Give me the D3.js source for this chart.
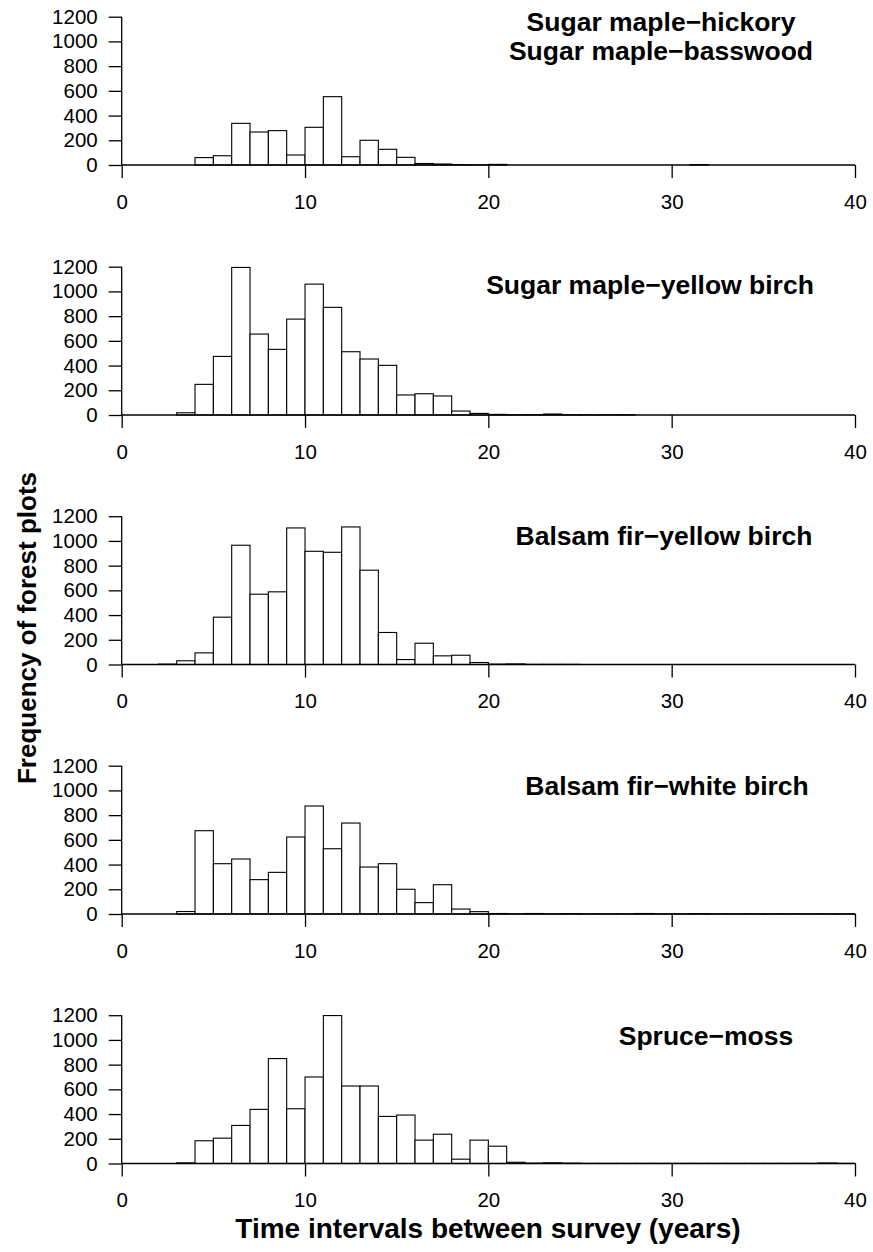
<!DOCTYPE html>
<html><head><meta charset="utf-8">
<script src="https://cdn.jsdelivr.net/npm/d3@7"></script>
<style>body{margin:0;background:#fff}svg{display:block}</style>
</head><body>
<script>
// bin left edges (years), each bin is 1 year wide
const binStarts = [0,1,2,3,4,5,6,7,8,9,10,11,12,13,14,15,16,17,18,19,20,21,22,23,24,25,26,27,28,29,30,31,32,33,34,35,36,37,38,39];
const xTicks = [0,10,20,30,40];
const yTicks = [0,200,400,600,800,1000,1200];

const panelTitles = [
  ["Sugar maple\u2212hickory","Sugar maple\u2212basswood"],
  ["Sugar maple\u2212yellow birch"],
  ["Balsam fir\u2212yellow birch"],
  ["Balsam fir\u2212white birch"],
  ["Spruce\u2212moss"]
];
const countsSMH = [0,0,0,0,60,75,337,267,278,81,305,553,67,200,127,62,12,8,3,1,5,0,0,0,0,0,0,0,0,0,0,3,0,0,0,0,0,0,0,0];
const countsSMYB = [0,0,0,18,248,474,1194,655,531,776,1059,871,512,453,402,162,172,154,32,13,5,2,3,8,2,1,1,2,0,0,0,0,0,0,0,0,0,0,0,0];
const countsBFYB = [0,0,3,30,94,383,965,569,588,1105,916,908,1113,763,259,40,172,70,75,16,3,5,1,1,1,0,0,0,0,0,0,0,0,0,0,0,0,0,0,0];
const countsBFWB = [0,0,0,20,674,407,445,278,337,623,874,528,736,380,407,200,92,237,40,19,4,1,4,1,3,1,1,1,4,1,1,3,1,1,1,1,1,1,1,1];
const countsSM = [0,0,0,5,184,205,308,438,849,443,700,1197,627,627,381,392,189,237,35,189,140,10,3,6,3,1,1,1,1,1,1,1,1,1,1,1,1,1,4,1];
const allCounts = [countsSMH, countsSMYB, countsBFYB, countsBFWB, countsSM];

const yLabel = "Frequency of forest plots";
const xLabel = "Time intervals between survey (years)";

const W = 873, H = 1252;
const svg = d3.select("body").append("svg").attr("width", W).attr("height", H)
  .style("font-family", "'Liberation Sans', Arial, Helvetica, sans-serif");

const x = d3.scaleLinear().domain([0, 40]).range([121.7, 855]);
const baseY = [165, 415, 664.5, 914, 1163.5];
const plotH = 148.3;
const titleCX = [661, 650, 664, 667, 706];
const titleCY = [[22, 51], [285], [536], [786], [1036]];

allCounts.forEach((counts, i) => {
  const y = d3.scaleLinear().domain([0, 1200]).range([baseY[i], baseY[i] - plotH]);
  const g = svg.append("g");
  g.selectAll("rect").data(binStarts).join("rect")
    .attr("x", d => x(d))
    .attr("width", d => x(d + 1) - x(d))
    .attr("y", (d, j) => y(counts[j]))
    .attr("height", (d, j) => y(0) - y(counts[j]))
    .attr("fill", "#fff").attr("stroke", "#000").attr("stroke-width", 1.1);

  const yAxis = d3.axisLeft(y).tickValues(yTicks).tickSize(13).tickPadding(11).tickFormat(d3.format("d"));
  const ya = g.append("g").attr("transform", `translate(${x(0)},0)`).call(yAxis);
  const xAxis = d3.axisBottom(x).tickValues(xTicks).tickSize(13).tickPadding(16).tickFormat(d3.format("d"));
  const xa = g.append("g").attr("transform", `translate(0,${y(0)})`).call(xAxis);
  [ya, xa].forEach(a => {
    a.select(".domain").attr("stroke", "#000").attr("stroke-width", 1.3)
      .attr("d", a === ya ? `M0,${y(0)}V${y(1200)}` : `M${x(0)},0H${x(40)}`);
    a.selectAll(".tick line").attr("stroke", "#000").attr("stroke-width", 1.3);
    a.selectAll(".tick text").attr("fill", "#000").style("font-size", "20.5px")
      .style("font-family", "'Liberation Sans', Arial, sans-serif");
  });

  panelTitles[i].forEach((t, k) => {
    g.append("text").attr("x", titleCX[i]).attr("y", titleCY[i][k] + 9)
      .attr("text-anchor", "middle").style("font-size", "26.5px").style("font-weight", "bold")
      .text(t);
  });
});

svg.append("text").attr("transform", "translate(36,628) rotate(-90)")
  .attr("text-anchor", "middle").style("font-size", "26px").style("font-weight", "bold").text(yLabel);
svg.append("text").attr("x", 488).attr("y", 1238)
  .attr("text-anchor", "middle").style("font-size", "28px").style("font-weight", "bold").text(xLabel);
</script>
</body></html>
